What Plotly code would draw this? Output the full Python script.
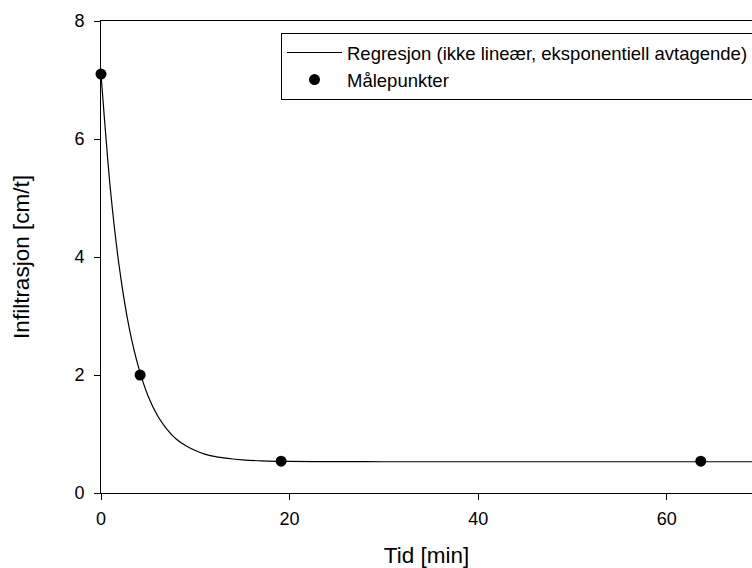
import plotly.graph_objects as go

# Measured points
meas_t = [0.0, 4.15, 19.1, 63.6]
meas_inf = [7.10, 2.00, 0.54, 0.54]

# Regression curve
curve_t = [0, 1, 2, 3, 4, 5, 6, 7, 8, 9, 10, 11, 12, 13, 14, 15, 17, 20, 25, 30, 40, 50, 60, 69.1]
curve_inf = [7.10, 5.14, 3.76, 2.79, 2.12, 1.64, 1.31, 1.08, 0.91, 0.80, 0.72, 0.66, 0.62, 0.595, 0.576, 0.562, 0.546, 0.535, 0.531, 0.53, 0.53, 0.53, 0.53, 0.53]

x_ticks = [0, 20, 40, 60]
y_ticks = [0, 2, 4, 6, 8]

FONT = "Liberation Sans, Arial, sans-serif"

fig = go.Figure()
fig.add_trace(go.Scatter(
    x=curve_t, y=curve_inf, mode="lines", line=dict(color="black", width=1.2, shape="spline", smoothing=0.8),
    name="Regresjon (ikke lineær, eksponentiell avtagende)", cliponaxis=False,
))
fig.add_trace(go.Scatter(
    x=meas_t, y=meas_inf, mode="markers", marker=dict(color="black", size=11),
    name="Målepunkter", cliponaxis=False,
))

fig.update_layout(
    width=752, height=568,
    margin=dict(l=101, r=0, t=21, b=75, autoexpand=False),
    paper_bgcolor="white", plot_bgcolor="white",
    font=dict(family=FONT, size=18, color="black"),
    showlegend=True,
    legend=dict(
        x=0.2765, y=0.9746, xanchor="left", yanchor="top",
        bordercolor="black", borderwidth=1, bgcolor="white",
        font=dict(family=FONT, size=18.5, color="black"),
        tracegroupgap=0, itemwidth=55, entrywidth=520, entrywidthmode="pixels",
    ),
    xaxis=dict(
        range=[0, 69.03], tickvals=x_ticks, ticktext=[str(v) for v in x_ticks],
        showgrid=False, zeroline=False, showline=True, linecolor="black", linewidth=1,
        mirror=True, ticks="outside", ticklen=6, tickcolor="black", ticklabelstandoff=3,
        automargin=False,
        title=dict(text="Tid [min]", font=dict(family=FONT, size=22.5), standoff=20),
    ),
    yaxis=dict(
        range=[0, 8], tickvals=y_ticks, ticktext=[str(v) for v in y_ticks],
        showgrid=False, zeroline=False, showline=True, linecolor="black", linewidth=1,
        mirror=False, ticks="outside", ticklen=6, tickcolor="black", ticklabelstandoff=6,
        automargin=False,
        title=dict(text="Infiltrasjon [cm/t]", font=dict(family=FONT, size=22.5), standoff=38),
    ),
)

fig.write_html("out.html")
